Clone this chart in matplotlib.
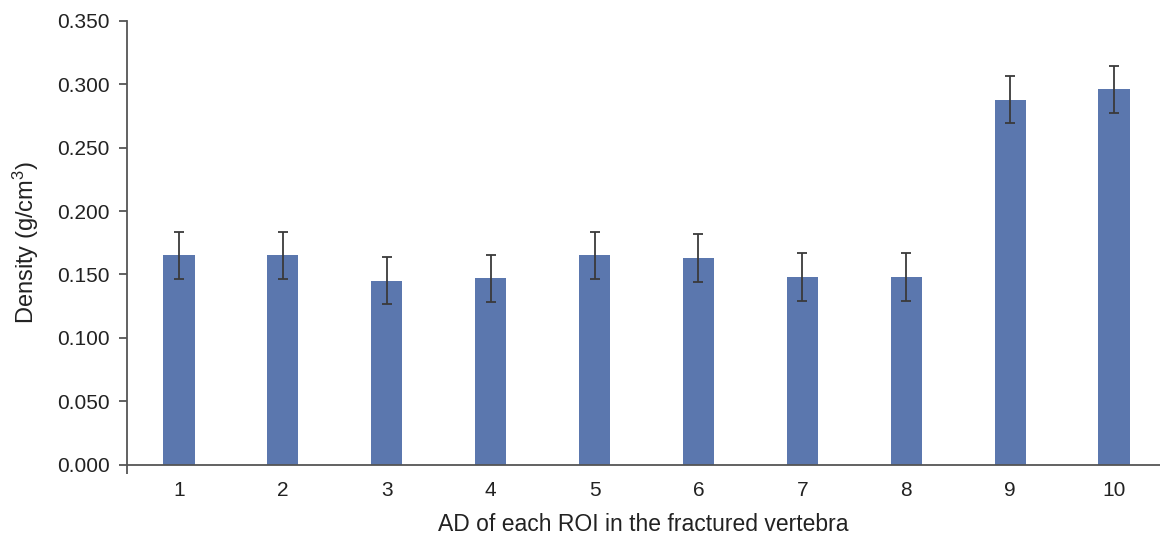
import matplotlib
matplotlib.use("Agg")
import matplotlib.pyplot as plt
from matplotlib.ticker import FixedLocator

categories = ["1", "2", "3", "4", "5", "6", "7", "8", "9", "10"]
density = [0.165, 0.165, 0.145, 0.147, 0.165, 0.163, 0.148, 0.148, 0.288, 0.296]
errors = [0.0187, 0.0187, 0.0186, 0.0186, 0.0187, 0.0187, 0.0186, 0.0186, 0.0186, 0.0187]
yticks = [0.0, 0.05, 0.10, 0.15, 0.20, 0.25, 0.30, 0.35]

plt.rcParams['font.family'] = ['Liberation Sans', 'DejaVu Sans']
plt.rcParams['mathtext.fontset'] = 'custom'
plt.rcParams['mathtext.rm'] = 'Liberation Sans'

fig = plt.figure(figsize=(11.6, 5.38), dpi=100)
ax = fig.add_axes([127/1160, (538-464.5)/538, 1 - 127/1160, (464.5-21)/538])

x = list(range(1, len(categories) + 1))
ax.bar(x, density, width=0.3, color="#5b77ae", zorder=2)
ax.errorbar(x, density, yerr=errors, fmt="none", ecolor="#3a3a3a",
            elinewidth=1.3, capsize=3.5, capthick=1.3, zorder=3)

ax.set_xlim(0.5, 0.5 + 1033/103.9)
ax.set_ylim(0, 0.35)
ax.set_yticks(yticks)
ax.set_yticklabels([f"{v:.3f}" for v in yticks])
ax.set_xticks(x)
ax.set_xticklabels(categories)
ax.xaxis.set_minor_locator(FixedLocator([0.5]))
ax.tick_params(axis="x", which="major", length=0, pad=12, labelsize=15, colors="#222222")
ax.tick_params(axis="x", which="minor", length=6.5, width=1.3, color="#555555", direction="out")
ax.tick_params(axis="y", length=6, width=1.3, color="#555555", pad=6.5, labelsize=15, labelcolor="#222222")

for s in ["top", "right"]:
    ax.spines[s].set_visible(False)
for s in ["left", "bottom"]:
    ax.spines[s].set_color("#555555")
    ax.spines[s].set_linewidth(1.3)

ax.set_ylabel("Density (g/cm$\\mathregular{^3}$)", fontsize=17, color="#222222")
ax.yaxis.set_label_coords(-0.083, 0.5)
ax.set_xlabel("AD of each ROI in the fractured vertebra", fontsize=16.5, color="#222222")
ax.xaxis.set_label_coords(0.5, -0.11)

fig.savefig("out.png", dpi=100)
